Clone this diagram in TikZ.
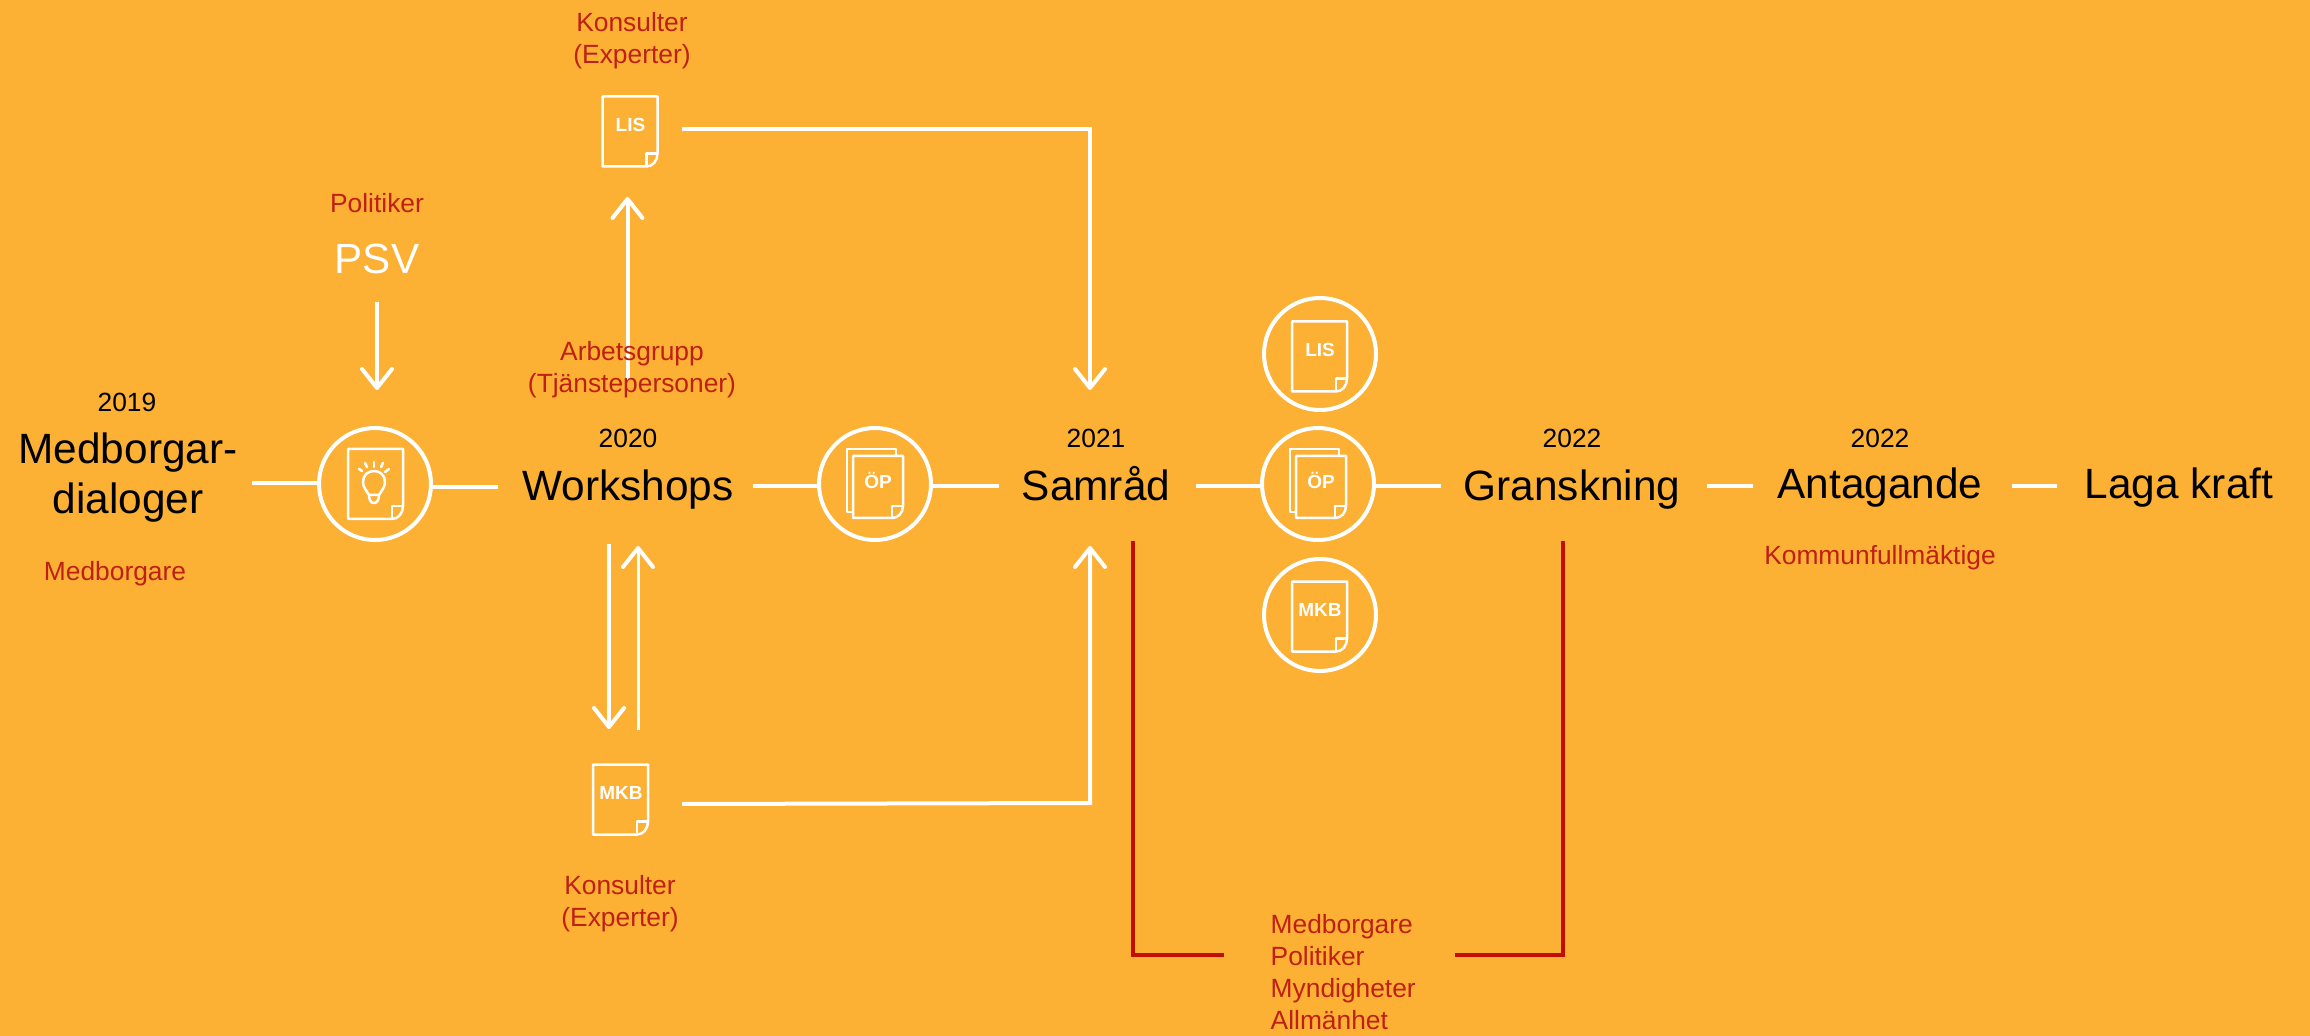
\documentclass[tikz,border=0pt]{standalone}
\usepackage{fontspec}
\setmainfont{Liberation Sans}
\usetikzlibrary{arrows.meta}
\definecolor{bgc}{HTML}{FCB034}
\definecolor{redc}{HTML}{C00E00}
\definecolor{redt}{HTML}{BF2015}
\newcommand\fs[2]{\fontsize{#1pt}{#2pt}\selectfont}
\tikzset{
 barb/.tip={Straight Barb[length=1.9mm,width=3mm,round,line width=.4mm]},
 wline/.style={draw=white,line width=.4mm},
 warrow/.style={wline,-barb,line join=miter},
 rline/.style={draw=redc,line width=.4mm},
 ring/.style={circle,draw=white,line width=.4mm,inner sep=0,minimum size=11.2mm},
 docbox/.style={rectangle,inner sep=0,minimum width=5.5mm,minimum height=7mm},
 docline/.style={draw=white,line width=.25mm,line join=round},
 doclabel/.style={inner sep=0,text=white,font=\fs{5.4}{6.5}\bfseries},
 big/.style={inner sep=0,text=black,font=\fs{12.05}{14.2},anchor=base},
 year/.style={inner sep=0,text=black,font=\fs{7.5}{9},anchor=base},
 redlabel/.style={inner sep=0,text=redt,font=\fs{7.5}{9.12},align=center},
}
\newcommand\docicon[4]{%
 \begin{scope}[shift={(#2,#3)}]
 \node[docbox] (#1) at (0,0) {};
 \draw[docline] (-27.5,-35) -- (27.5,-35) -- (27.5,22) .. controls (27.5,29) and (23,35) .. (16.5,35) -- (-27.5,35) -- cycle;
 \draw[docline] (27.5,22) -- (16.5,22) -- (16.5,35);
 \node[doclabel] (#1text) at (0.5,-7) {#4};
 \end{scope}}
\newcommand\opicon[3]{%
 \begin{scope}[shift={(#2,#3)}]
 \node[docbox] (#1) at (0,0) {};
 \draw[docline] (-22,28) -- (-28,28) -- (-28,-35) -- (21,-35) -- (21,-28);
 \draw[docline] (-22,-28) -- (28,-28) -- (28,22) .. controls (28,29) and (23,34) .. (17,34) -- (-22,34) -- cycle;
 \draw[docline] (28,22) -- (17,22) -- (17,34);
 \node[doclabel] (#1text) at (3,-4) {ÖP};
 \end{scope}}
\begin{document}
\begin{tikzpicture}[x=.1mm,y=-.1mm]
\useasboundingbox (0,0) rectangle (2310,1036);
\fill[bgc] (0,0) rectangle (2310,1036);

% rings
\node[ring] (c1) at (375,484) {};
\node[ring] (c2) at (875,484) {};
\node[ring] (c3) at (1320,354) {};
\node[ring] (c4) at (1318,484) {};
\node[ring] (c5) at (1320,615) {};

% icons
\docicon{dA}{375.5}{484}{}
\foreach \a/\b/\c/\d in {359/469/362/471,365/463/367/467,374/462/374/467,383/463/381/467,389/469/385/472}
 \draw[docline,line cap=round] (\a,\b) -- (\c,\d);
\draw[docline] (369,495) .. controls (366,490) and (363,487) .. (363,482) .. controls (363,475) and (368,471) .. (374,471) .. controls (380,471) and (385,475) .. (385,482) .. controls (385,487) and (382,490) .. (379,495) -- cycle;
\draw[docline] (369,495) .. controls (369,500) and (371,503) .. (374,503) .. controls (377,503) and (379,500) .. (379,495);
\opicon{dB}{875}{484}
\opicon{dC}{1318}{484}
\docicon{dD}{630}{131.5}{LIS}
\docicon{dE}{620.5}{799.5}{MKB}
\docicon{dF}{1319.5}{356.5}{LIS}
\docicon{dG}{1319.5}{616.5}{MKB}

% connector ends
\coordinate (a1) at (252,483);
\coordinate (a2) at (498,487);
\coordinate (a3) at (753,486.5);
\coordinate (a4) at (999,486.5);
\coordinate (a5) at (1196,486.5);
\coordinate (a6) at (1441,486.5);
\coordinate (a7) at (1707,486.5);
\coordinate (a8) at (1753,486.5);
\coordinate (a9) at (2012,486.5);
\coordinate (a10) at (2057,486.5);
\coordinate (b1) at (377,302);
\coordinate (b2) at (377,390);
\coordinate (b3) at (627.5,380);
\coordinate (b4) at (627.5,197);
\coordinate (b5) at (682,129);
\coordinate (b6) at (1090,129);
\coordinate (b7) at (1090,390);
\coordinate (b8) at (609,544);
\coordinate (b9) at (609,729);
\coordinate (b10) at (638,730);
\coordinate (b11) at (638,546);
\coordinate (b12) at (682,804);
\coordinate (b13) at (1090,803);
\coordinate (b14) at (1090,546);
\coordinate (r1) at (1133,541);
\coordinate (r2) at (1133,955);
\coordinate (r3) at (1224,955);
\coordinate (r4) at (1455,955);
\coordinate (r5) at (1563,955);
\coordinate (r6) at (1563,541);

% connectors
\draw[wline] (a1) -- (a1 -| c1.west);
\draw[wline] (a2 -| c1.east) -- (a2);
\draw[wline] (a3) -- (a3 -| c2.west);
\draw[wline] (a4 -| c2.east) -- (a4);
\draw[wline] (a5) -- (a5 -| c4.west);
\draw[wline] (a6 -| c4.east) -- (a6);
\draw[wline] (a7) -- (a8);
\draw[wline] (a9) -- (a10);
\draw[warrow] (b1) -- (b2);
\draw[warrow] (b3) -- (b4);
\draw[warrow] (b5) -- (b6) -- (b7);
\draw[warrow] (b8) -- (b9);
\draw[warrow,line width=.3mm] (b10) -- (b11);
\draw[warrow] (b12) -- (b13) -- (b14);
\draw[rline] (r1) -- (r2) -- (r3);
\draw[rline] (r4) -- (r5) -- (r6);

% texts
\node[redlabel] (t1) at (632,41) {Konsulter\\(Experter)};
\node[redlabel] (t2) at (377,203) {Politiker};
\node[inner sep=0,text=white,font=\fs{12}{14}] (psv) at (377,259) {PSV};
\node[redlabel] (t3) at (632,370) {Arbetsgrupp\\(Tjänstepersoner)};
\node[year] (y1) at (127,412) {2019};
\node[big,anchor=center,align=center] (medb) at (128,478) {Medborgar-\\dialoger};
\node[redlabel] (t4) at (115,574) {Medborgare};
\node[year] (y2) at (628,448) {2020};
\node[big] (work) at (628,500) {Workshops};
\node[year] (y3) at (1096,448) {2021};
\node[big] (sam) at (1096,500) {Samråd};
\node[year] (y4) at (1572,448) {2022};
\node[big] (gran) at (1572,500) {Granskning};
\node[year] (y5) at (1880,447) {2022};
\node[big] (anta) at (1880,498) {Antagande};
\node[redlabel,anchor=base] (t5) at (1880,564) {Kommunfullmäktige};
\node[big] (laga) at (2179,498) {Laga kraft};
\node[redlabel] (t6) at (620,903.5) {Konsulter\\(Experter)};
\node[redlabel,align=left,anchor=west] (t7) at (1270,972) {Medborgare\\Politiker\\Myndigheter\\Allmänhet};
\end{tikzpicture}
\end{document}
